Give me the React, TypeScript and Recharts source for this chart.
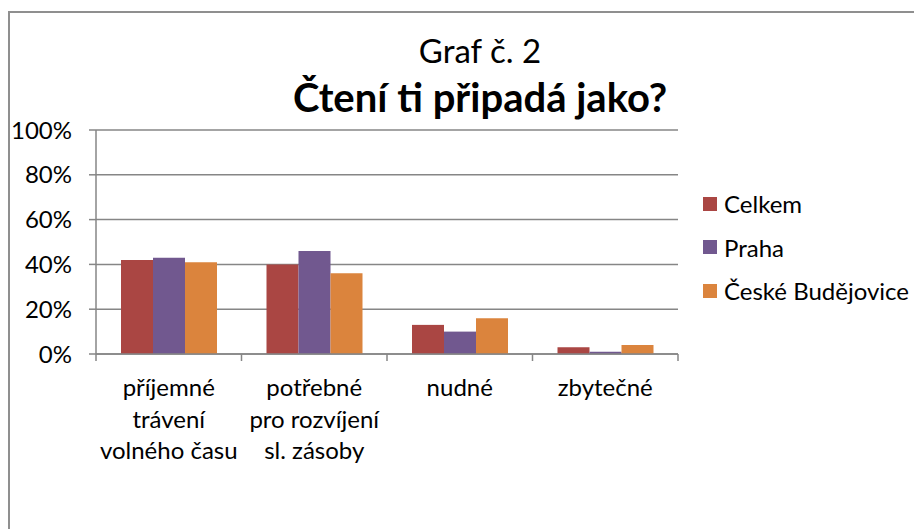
import { BarChart, Bar, XAxis, YAxis, CartesianGrid, Legend } from 'recharts';

const categories = ['příjemné\ntrávení\nvolného času', 'potřebné\npro rozvíjení\nsl. zásoby', 'nudné', 'zbytečné'];
const celkem = [42, 40, 13, 3];
const praha = [43, 46, 10, 1];
const budejovice = [41, 36, 16, 4];
const yTicks = [0, 20, 40, 60, 80, 100];

const series = [
  { key: 'celkem', name: 'Celkem', color: '#AA4643' },
  { key: 'praha', name: 'Praha', color: '#71588F' },
  { key: 'budejovice', name: 'České Budějovice', color: '#DB843D' },
];

const data = categories.map((c, i) => ({
  name: c,
  celkem: celkem[i],
  praha: praha[i],
  budejovice: budejovice[i],
}));

const FONT = 'Lato, "Noto Sans", sans-serif';
const AXIS = '#868686';
const BAND = (670 - 88) / categories.length;

function XTick(props: any) {
  const { x, y, payload, index } = props;
  const lines = String(payload.value).split('\n');
  return (
    <g>
      <line x1={x - BAND / 2} y1={y} x2={x - BAND / 2} y2={y + 7} stroke={AXIS} strokeWidth={1.5} />
      {index === categories.length - 1 && (
        <line x1={x + BAND / 2} y1={y} x2={x + BAND / 2} y2={y + 7} stroke={AXIS} strokeWidth={1.5} />
      )}
      <text x={x} y={y + 42} textAnchor="middle" fontSize={24} fill="#000" fontFamily={FONT}>
        {lines.map((l, i) => (
          <tspan key={i} x={x} dy={i === 0 ? 0 : 31.5}>{l}</tspan>
        ))}
      </text>
    </g>
  );
}

function LegendBox() {
  return (
    <div style={{ fontFamily: FONT }}>
      {series.map((s) => (
        <div key={s.key} style={{ display: 'flex', alignItems: 'center', height: 43.5 }}>
          <div style={{ width: 14, height: 14, background: s.color, marginRight: 7 }} />
          <span style={{ fontSize: 24, color: '#000' }}>{s.name}</span>
        </div>
      ))}
    </div>
  );
}

export default function App() {
  return (
    <div style={{ position: 'relative', top: 3, width: 914, height: 521, background: '#fff' }}>
      <div
        style={{
          position: 'absolute', left: 0, top: 0, right: 0, bottom: 0,
          borderTop: '2px solid #8f8f8f', borderLeft: '2px solid #8f8f8f', pointerEvents: 'none',
        }}
      />
      <div style={{ position: 'absolute', left: 0, width: 944, top: 19, textAlign: 'center', fontFamily: FONT, fontSize: 33, lineHeight: '40px', color: '#000', whiteSpace: 'nowrap' }}>
        Graf č. 2
      </div>
      <div style={{ position: 'absolute', left: 0, width: 944, top: 62, textAlign: 'center', fontFamily: FONT, fontSize: 40, lineHeight: '48px', fontWeight: 'bold', color: '#000', whiteSpace: 'nowrap' }}>
        Čtení ti připadá jako?
      </div>
      <BarChart
        width={914}
        height={521}
        data={data}
        margin={{ top: 119, right: 244, left: 0, bottom: 58 }}
        barGap={0}
      >
        <CartesianGrid vertical={false} stroke={AXIS} strokeWidth={1.5} />
        <YAxis
          width={88}
          domain={[0, 100]}
          ticks={yTicks}
          tickFormatter={(v) => `${v}%`}
          tick={{ fontSize: 24, fill: '#000', fontFamily: FONT }}
          axisLine={{ stroke: AXIS, strokeWidth: 1.5 }}
          tickLine={{ stroke: AXIS, strokeWidth: 1.5 }}
          tickSize={7}
          tickMargin={17}
          interval={0}
        />
        <XAxis
          dataKey="name"
          height={120}
          axisLine={{ stroke: AXIS, strokeWidth: 1.5 }}
          tickLine={false}
          tickSize={0}
          tickMargin={0}
          interval={0}
          tick={<XTick />}
        />
        <Legend
          layout="horizontal"
          verticalAlign="middle"
          align="center"
          content={<LegendBox />}
          wrapperStyle={{ position: 'absolute', left: 695, top: 171, width: 225 }}
        />
        {series.map((s) => (
          <Bar key={s.key} dataKey={s.key} name={s.name} fill={s.color} barSize={32} isAnimationActive={false} />
        ))}
      </BarChart>
    </div>
  );
}
